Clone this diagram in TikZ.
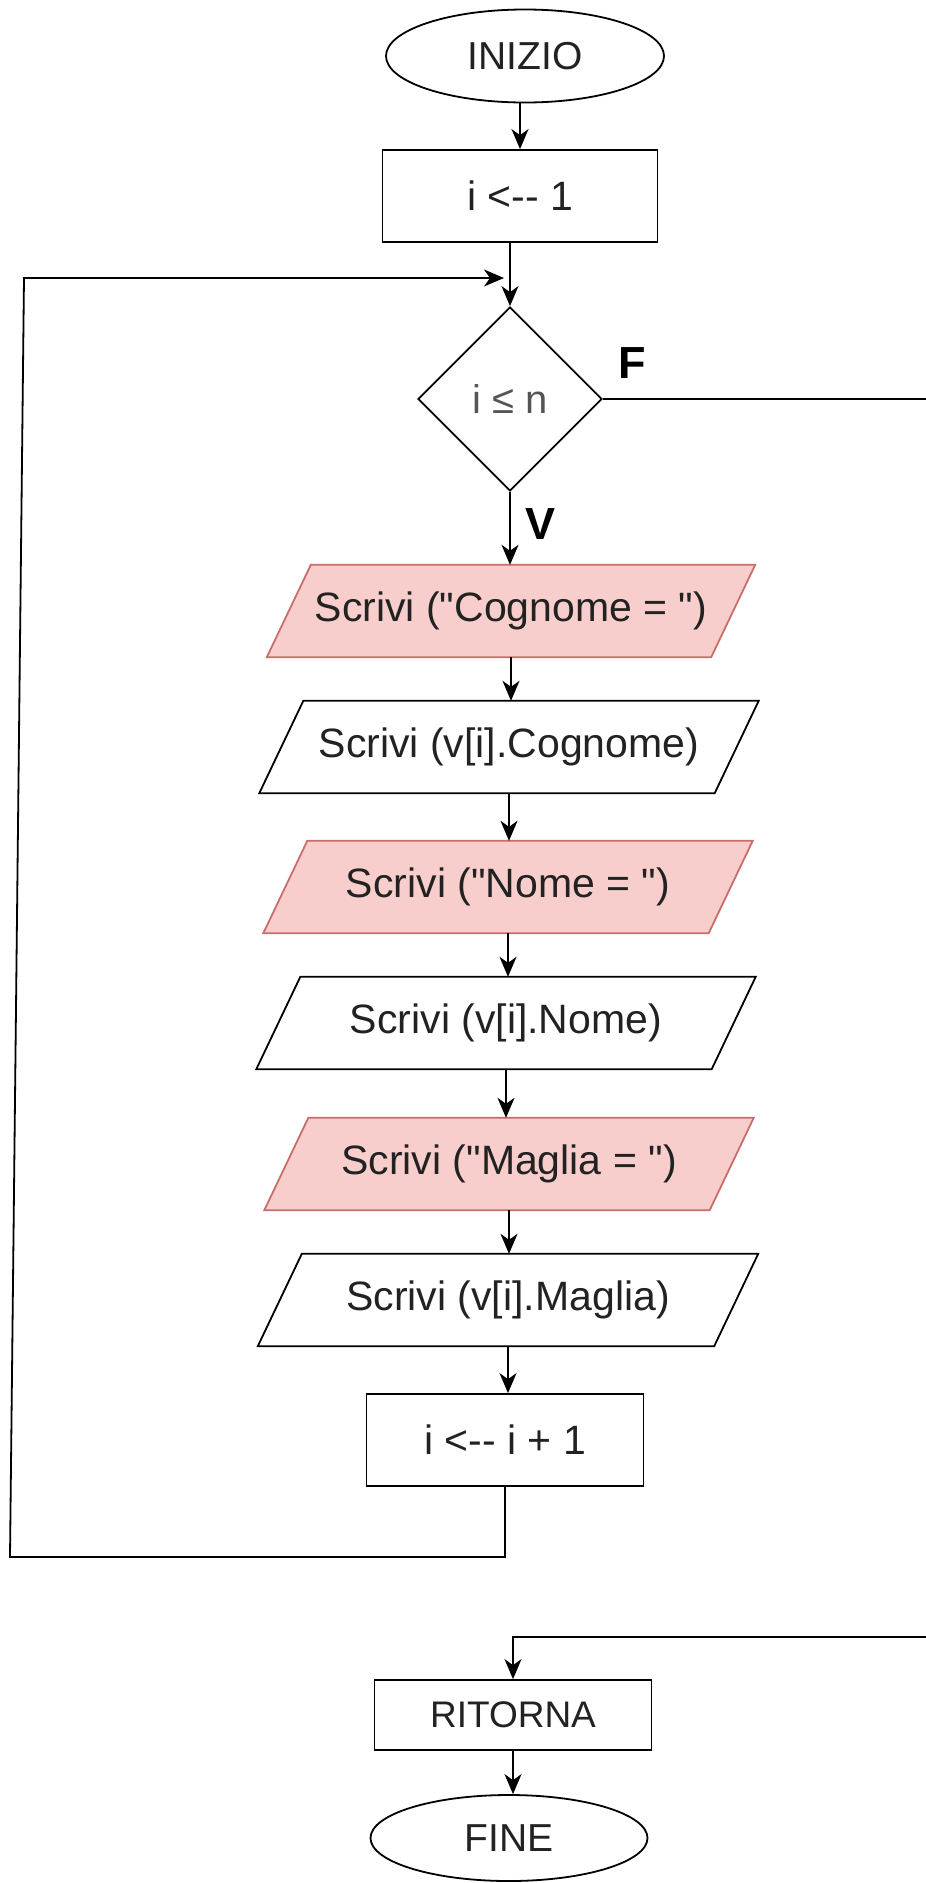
\documentclass[tikz,border=0pt]{standalone}
\usepackage{fontspec}
\setmainfont{Liberation Sans}
\usetikzlibrary{shapes.geometric,arrows.meta,calc}
\pgfdeclarelayer{background}
\pgfsetlayers{background,main}
\definecolor{pinkfill}{HTML}{F8CECC}
\definecolor{pinkline}{HTML}{C86E6A}
\definecolor{txt}{HTML}{222222}
\definecolor{dtxt}{HTML}{555555}
\newcommand{\qq}{\textquotedbl}
\begin{document}
\begin{tikzpicture}[x=1pt,y=-1pt,
  every node/.style={text=txt, inner sep=0pt},
  term/.style={draw=black, line width=1.8pt, ellipse, minimum width=278pt, minimum height=93pt, font=\fontsize{39}{47}\selectfont},
  proc/.style={draw=black, line width=1.8pt, rectangle, minimum width=275pt, minimum height=92pt, font=\fontsize{41}{49}\selectfont},
  dec/.style={draw=black, line width=1.8pt, diamond, aspect=1, minimum width=184pt, minimum height=184pt, text=dtxt, font=\fontsize{40}{48}\selectfont},
  io/.style={rectangle, minimum height=92pt, font=\fontsize{41}{49}\selectfont},
  lbl/.style={font=\bfseries\fontsize{45}{54}\selectfont, text=black},
  conn/.style={line width=1.8pt, -{Stealth[length=20pt,width=17pt,inset=6pt]}},
]
\useasboundingbox (0,0) rectangle (926,1883);
\clip (0,0) rectangle (926,1883);

\node[term] (start) at (525,56) {INIZIO};
\node[proc] (init) at (520,196) {i <{-}{-} 1};
\node[dec] (dia) at (510,399) {i ≤ n};
\node[io, minimum width=444pt] (p1) at (511,611) {Scrivi (\qq Cognome = \qq)};
\node[io, minimum width=455pt] (p2) at (509,747) {Scrivi (v[i].Cognome)};
\node[io, minimum width=445pt] (p3) at (508,887) {Scrivi (\qq Nome = \qq)};
\node[io, minimum width=455pt] (p4) at (506,1023) {Scrivi (v[i].Nome)};
\node[io, minimum width=445pt] (p5) at (509,1164) {Scrivi (\qq Maglia = \qq)};
\node[io, minimum width=456pt] (p6) at (508,1300) {Scrivi (v[i].Maglia)};
\node[proc, minimum width=277pt] (inc) at (505,1440) {i <{-}{-} i + 1};
\node[proc, minimum width=277pt, minimum height=70pt, font=\fontsize{37}{44}\selectfont] (rit) at (513,1715) {RITORNA};
\node[term, minimum width=277pt, minimum height=86pt] (fine) at (509,1838) {FINE};
\node[lbl] (lf) at (632,363) {F};
\node[lbl] (lv) at (541,524) {V};

\begin{pgfonlayer}{background}
\foreach \n/\f/\d in {p1/pinkfill/pinkline, p2/white/black, p3/pinkfill/pinkline, p4/white/black, p5/pinkfill/pinkline, p6/white/black}
  \draw[line width=1.8pt, fill=\f, draw=\d]
    ([xshift=22pt]\n.north west) -- ([xshift=22pt]\n.north east)
    -- ([xshift=-22pt]\n.south east) -- ([xshift=-22pt]\n.south west) -- cycle;
\end{pgfonlayer}

\coordinate (lb) at (10,1557);
\coordinate (lt) at (24,278);
\coordinate (la) at (504,278);
\coordinate (fo) at (960,399);
\coordinate (fr) at (960,1637);

\draw[conn] (start.south -| init.north) -- (init.north);
\draw[conn] (dia.north |- init.south) -- (dia.north);
\draw[conn] (dia.south) -- (dia.south |- p1.north);
\draw[conn] (p1.south) -- (p1.south |- p2.north);
\draw[conn] (p2.south) -- (p2.south |- p3.north);
\draw[conn] (p3.south) -- (p3.south |- p4.north);
\draw[conn] (p4.south) -- (p4.south |- p5.north);
\draw[conn] (p5.south) -- (p5.south |- p6.north);
\draw[conn] (p6.south) -- (p6.south |- inc.north);
\draw[conn] (inc.south) -- (inc.south |- lb) -- (lb) -- (lt) -- (la);
\draw[conn] (dia.east) -- (fo) -- (fr) -- (rit.north |- fr) -- (rit.north);
\draw[conn] (rit.south) -- (rit.south |- fine.north);
\end{tikzpicture}
\end{document}
